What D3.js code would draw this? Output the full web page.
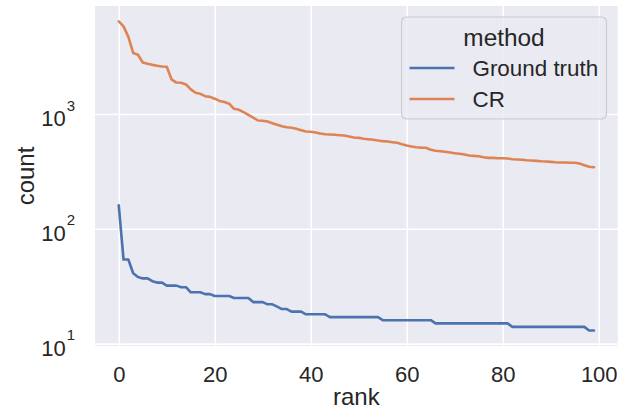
<!DOCTYPE html>
<html><head><meta charset="utf-8">
<script src="https://cdn.jsdelivr.net/npm/d3@7"></script>
<style>body{margin:0;background:#fff}text{font-family:"Liberation Sans",Arial,sans-serif;fill:#262626}</style>
</head><body><svg id="c" width="630" height="411"></svg>
<script>
const seriesNames = ["Ground truth", "CR"];
const colors = ["#4c72b0", "#dd8452"];
const groundTruth = [160,54,54,41,38,37,37,35,34,34,
  32,32,32,31,31,28,28,28,27,27,
  26,26,26,26,25,25,25,25,23,23,
  23,22,22,21,20,20,19,19,19,18,
  18,18,18,18,17,17,17,17,17,17,
  17,17,17,17,17,16,16,16,16,16,
  16,16,16,16,16,16,15,15,15,15,
  15,15,15,15,15,15,15,15,15,15,
  15,15,14,14,14,14,14,14,14,14,
  14,14,14,14,14,14,14,14,13,13];
const cr = [6400,5800,4700,3400,3280,2810,2740,2680,2630,2590,
  2580,2000,1880,1870,1810,1640,1530,1500,1430,1410,
  1360,1300,1270,1230,1110,1090,1040,984,932,878,
  873,860,832,805,783,767,758,743,723,704,
  700,690,676,667,663,659,654,650,637,624,
  620,608,603,596,588,580,576,568,561,545,
  532,521,514,510,508,488,478,474,469,462,
  456,450,444,435,432,429,420,415,415,412,
  412,410,404,402,399,396,394,391,388,386,
  383,380,378,378,376,376,370,358,347,344];
const xTicks = [0,20,40,60,80,100];
const yTicks = [10,100,1000];
const yTickLabels = [["10","1"],["10","2"],["10","3"]];
const xLabel = "rank", yLabel = "count", legendTitle = "method";

const W = 630, H = 411;
const m = {left:95, right:630-617.7, top:6, bottom:411-346};
const svg = d3.select("#c");
const iw = W - m.left - m.right, ih = H - m.top - m.bottom;
const g = svg.append("g").attr("transform", `translate(${m.left},${m.top})`);

const series = [groundTruth, cr];
const n = groundTruth.length;
const xm = (n-1)*0.05;
const x = d3.scaleLinear().domain([-xm, n-1+xm]).range([0, iw]);
const all = groundTruth.concat(cr);
const lo = Math.log10(d3.min(all)), hi = Math.log10(d3.max(all));
const ym = (hi-lo)*0.05;
const y = d3.scaleLog().domain([Math.pow(10, lo-ym), Math.pow(10, hi+ym)]).range([ih, 0]);

g.append("rect").attr("width", iw).attr("height", ih).attr("fill", "#eaeaf2");

// grid
g.append("g").attr("transform", `translate(0,${ih})`)
  .call(d3.axisBottom(x).tickValues(xTicks).tickSize(-ih).tickFormat(""))
  .call(a => { a.select(".domain").remove(); a.selectAll("line").attr("stroke","#fff").attr("stroke-width",1.6); });
g.append("g")
  .call(d3.axisLeft(y).tickValues(yTicks).tickSize(-iw).tickFormat(""))
  .call(a => { a.select(".domain").remove(); a.selectAll("line").attr("stroke","#fff").attr("stroke-width",1.6); });

// lines
const line = d3.line().x((d,i) => x(i)).y(d => y(d));
series.forEach((s, k) => {
  g.append("path").datum(s).attr("d", line).attr("fill","none")
    .attr("stroke", colors[k]).attr("stroke-width", 2.6).attr("stroke-linejoin","round").attr("stroke-linecap","round");
});

// x tick labels
const xa = g.append("g").attr("transform", `translate(0,${ih})`)
  .call(d3.axisBottom(x).tickValues(xTicks).tickSize(0).tickPadding(0).tickFormat(d3.format("d")));
xa.select(".domain").remove();
xa.selectAll("text").attr("font-size", 22).attr("y", 0).attr("dy", 0)
  .attr("transform", "translate(0,36)").style("font-family", "'Liberation Sans', Arial, sans-serif").attr("fill", "#262626");

// y tick labels
const ya = g.append("g")
  .call(d3.axisLeft(y).tickValues(yTicks).tickSize(0).tickFormat(""));
ya.select(".domain").remove();
ya.selectAll(".tick").each(function(d, i) {
  const t = d3.select(this).select("text").attr("x", 0).attr("dy", 0).attr("text-anchor", "end")
    .style("font-family", "'Liberation Sans', Arial, sans-serif").attr("fill", "#262626");
  t.selectAll("tspan").remove();
  t.attr("transform", "translate(-20,11.5)");
  t.append("tspan").attr("font-size", 22).text(yTickLabels[i][0]);
  t.append("tspan").attr("font-size", 15).attr("dy", -15.5).attr("dx", 1).text(yTickLabels[i][1]);
});

// axis labels
svg.append("text").attr("x", m.left + iw/2).attr("y", 404.5).attr("text-anchor", "middle")
  .attr("font-size", 24).text(xLabel);
svg.append("text").attr("transform", `translate(33.5,${m.top + ih/2}) rotate(-90)`).attr("text-anchor", "middle")
  .attr("font-size", 24).text(yLabel);

// legend
const lg = svg.append("g").attr("transform", "translate(401.5,17)");
lg.append("rect").attr("width", 205).attr("height", 102).attr("rx", 5)
  .attr("fill", "#eaeaf2").attr("fill-opacity", 0.8).attr("stroke", "#cccccc").attr("stroke-width", 1.2);
lg.append("text").attr("x", 102.5).attr("y", 28.5).attr("text-anchor", "middle").attr("font-size", 24.4).text(legendTitle);
seriesNames.forEach((nm, k) => {
  const yy = 51 + k*31;
  lg.append("line").attr("x1", 8).attr("x2", 53).attr("y1", yy).attr("y2", yy)
    .attr("stroke", colors[k]).attr("stroke-width", 2.6);
  lg.append("text").attr("x", 71).attr("y", yy + 8).attr("font-size", 22.4).text(nm);
});
</script></body></html>
